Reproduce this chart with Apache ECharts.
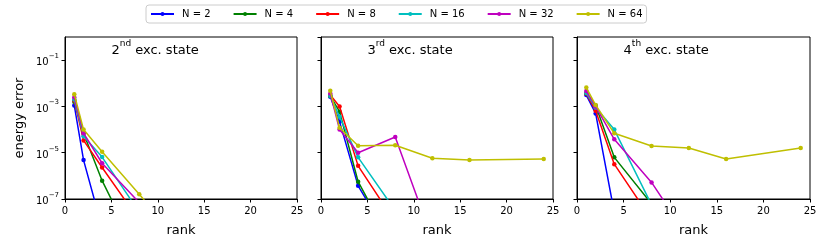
<!DOCTYPE html>
<html><head><meta charset="utf-8">
<script src="https://cdn.jsdelivr.net/npm/echarts@6/dist/echarts.min.js"></script>
<style>html,body{margin:0;padding:0;background:#fff}#c{width:830px;height:249px}</style>
</head><body><div id="c"></div>
<script>
const ranks = [1, 2, 4, 8, 12, 16, 24];
const seriesNames = ['N = 2', 'N = 4', 'N = 8', 'N = 16', 'N = 32', 'N = 64'];
const colors = ['#0000ff', '#008000', '#ff0000', '#00bfbf', '#bf00bf', '#bfbf00'];
const panelTitles = [['2', 'nd'], ['3', 'rd'], ['4', 'th']];
const xTicks = [0, 5, 10, 15, 20, 25];
const yTickExps = [-7, -5, -3, -1];
// energy error per N, values at ranks[0..]
const err2nd = [
  [1.1e-3, 4.8e-6, 5.7e-9],
  [1.6e-3, 7e-5, 6.2e-7, 3.5e-10],
  [1.8e-3, 3.4e-5, 2.3e-6, 1.2e-8],
  [2.0e-3, 5.2e-5, 6.5e-6, 2.7e-8],
  [2.5e-3, 7e-5, 3.5e-6, 7e-8],
  [3.4e-3, 1.0e-4, 1.1e-5, 1.6e-7, 2.3e-9]
];
const err3rd = [
  [2.6e-3, 2.2e-4, 3.7e-7, 8e-10],
  [2.8e-3, 5.9e-4, 5.6e-7, 6e-10],
  [3.1e-3, 1.0e-3, 2.7e-6, 1e-8],
  [2.9e-3, 3.6e-4, 6.3e-6, 3.2e-8],
  [3.6e-3, 1.0e-4, 1.0e-5, 4.8e-5, 1.8e-9],
  [4.7e-3, 1.2e-4, 2.0e-5, 2.1e-5, 5.8e-6, 4.8e-6, 5.4e-6]
];
const err4th = [
  [3.1e-3, 5e-4, 2.6e-8],
  [3.6e-3, 1.1e-3, 6.3e-6, 6.2e-8],
  [3.6e-3, 6.5e-4, 3.2e-6, 1.3e-8],
  [3.8e-3, 9e-4, 1.0e-4, 5.6e-8],
  [4.6e-3, 1.0e-3, 3.8e-5, 5.2e-7, 2e-9],
  [6.5e-3, 1.15e-3, 6.9e-5, 1.96e-5, 1.6e-5, 5.4e-6, 1.6e-5]
];
const panels = [err2nd, err3rd, err4th];

const FONT = 'DejaVu Sans';
const gridLefts = [65, 321, 577];
const gridWidths = [232, 232, 233];
const grids = gridLefts.map((l, i) => ({
  left: l, top: 37, width: gridWidths[i], height: 162,
  show: true, borderColor: '#000', borderWidth: 1, backgroundColor: 'transparent'
}));
const xAxes = grids.map((g, i) => ({
  type: 'value', gridIndex: i, min: xTicks[0], max: xTicks[xTicks.length - 1], interval: 5,
  name: 'rank', nameLocation: 'middle', nameGap: 25,
  nameTextStyle: { fontFamily: FONT, fontSize: 13, color: '#000' },
  axisLine: { show: true, lineStyle: { color: '#000', width: 1 } },
  axisTick: { show: true, inside: false, length: 3.5, lineStyle: { color: '#000' } },
  axisLabel: { fontFamily: FONT, fontSize: 10, color: '#000', margin: 7 },
  splitLine: { show: false }
}));
const supNum = e => String(e).replace('-', '\u2212');
const yAxes = grids.map((g, i) => ({
  type: 'log', logBase: 10, gridIndex: i, min: Math.pow(10, yTickExps[0]), max: 1, interval: 2,
  name: i === 0 ? 'energy error' : '', nameLocation: 'middle', nameGap: 39,
  nameTextStyle: { fontFamily: FONT, fontSize: 13, color: '#000' },
  axisLine: { show: true, lineStyle: { color: '#000', width: 1 } },
  axisTick: { show: true, inside: false, length: 3.5, lineStyle: { color: '#000' } },
  minorTick: { show: false },
  splitLine: { show: false },
  axisLabel: {
    show: i === 0, margin: 6, showMaxLabel: false,
    formatter: v => {
      const e = Math.round(Math.log10(v));
      return '{b|10}{s|' + supNum(e) + '}';
    },
    rich: {
      b: { fontFamily: FONT, fontSize: 10, color: '#000', lineHeight: 15, verticalAlign: 'bottom' },
      s: { fontFamily: FONT, fontSize: 7, color: '#000', lineHeight: 15, verticalAlign: 'top' }
    }
  }
}));
const titles = panelTitles.map((t, i) => ({
  text: '{a|' + t[0] + '}{s|' + t[1] + '}{a| exc. state}',
  left: gridLefts[i] + 0.2 * gridWidths[i], top: 39, padding: 0,
  textStyle: {
    fontWeight: 'normal',
    rich: {
      a: { fontFamily: FONT, fontSize: 13, fontWeight: 'normal', color: '#000', lineHeight: 18, verticalAlign: 'bottom' },
      s: { fontFamily: FONT, fontSize: 9, fontWeight: 'normal', color: '#000', lineHeight: 18, verticalAlign: 'top' }
    }
  }
}));
const series = [];
panels.forEach((p, pi) => {
  p.forEach((vals, si) => {
    series.push({
      type: 'line', name: seriesNames[si], xAxisIndex: pi, yAxisIndex: pi,
      data: vals.map((v, k) => [ranks[k], v]),
      symbol: 'circle', symbolSize: 4.5, clip: true,
      lineStyle: { width: 1.5, color: colors[si] },
      itemStyle: { color: colors[si] },
      z: 2 + si, animation: false
    });
  });
});
const chart = echarts.init(document.getElementById('c'), null, { renderer: 'canvas' });
chart.setOption({
  animation: false,
  color: colors,
  title: titles,
  grid: grids, xAxis: xAxes, yAxis: yAxes,
  legend: {
    data: seriesNames, left: 146, top: 5, padding: [4, 4, 4, 4], itemGap: 22,
    itemWidth: 23, itemHeight: 5,
    borderColor: '#cccccc', borderWidth: 1, borderRadius: 3,
    textStyle: { fontFamily: FONT, fontSize: 10, color: '#000', padding: [0, 0, 0, 3] }
  },
  series: series
});
</script></body></html>
